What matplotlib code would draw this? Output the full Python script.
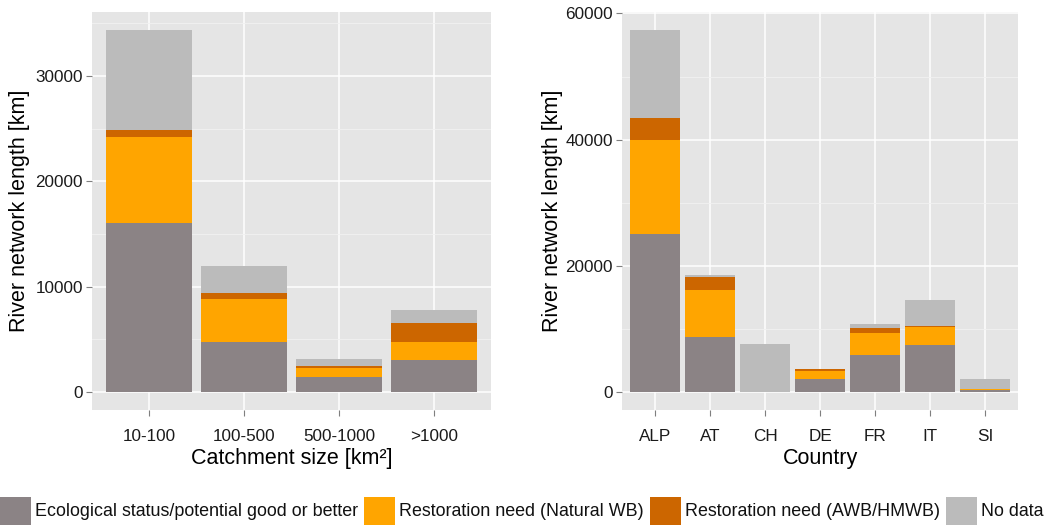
import numpy as np
import matplotlib
matplotlib.use("Agg")
import matplotlib.pyplot as plt
from matplotlib.patches import Rectangle

# river network length [km] by status class
catchments = ["10-100", "100-500", "500-1000", ">1000"]
catch_good = [16000, 4710, 1390, 3000]
catch_natural = [8250, 4140, 920, 1710]
catch_awb = [630, 570, 190, 1800]
catch_nodata = [9490, 2560, 660, 1300]

countries = ["ALP", "AT", "CH", "DE", "FR", "IT", "SI"]
country_good = [24960, 8760, 0, 2060, 5780, 7360, 320]
country_natural = [14990, 7440, 0, 1320, 3480, 2900, 200]
country_awb = [3480, 2060, 0, 260, 950, 160, 0]
country_nodata = [13930, 340, 7650, 0, 480, 4220, 1460]

labels = ["Ecological status/potential good or better",
          "Restoration need (Natural WB)",
          "Restoration need (AWB/HMWB)",
          "No data"]
colors = ["#8B8385", "#FFA500", "#CC6600", "#BBBBBB"]

plt.rcParams["font.family"] = ["Liberation Sans", "DejaVu Sans"]

W, H = 1045, 530
fig = plt.figure(figsize=(W / 100, H / 100), dpi=100)


def stacked(ax, cats, series, yticks, yminor):
    x = np.arange(1, len(cats) + 1)
    bottom = np.zeros(len(cats))
    for vals, c in zip(series, colors):
        vals = np.array(vals, dtype=float)
        ax.bar(x, vals, width=0.9, bottom=bottom, color=c, linewidth=0, zorder=3)
        bottom += vals
    top = bottom.max()
    ax.set_xlim(0.4, len(cats) + 0.6)
    ax.set_ylim(-0.05 * top, 1.05 * top)
    ax.set_facecolor("#E5E5E5")
    for s in ax.spines.values():
        s.set_visible(False)
    ax.set_xticks(x)
    ax.set_xticklabels(cats)
    ax.set_yticks(yticks)
    ax.set_yticks(yminor, minor=True)
    ax.grid(which="major", color="white", linewidth=1.1, zorder=1)
    ax.grid(which="minor", axis="y", color="#F2F2F2", linewidth=0.6, zorder=1)
    ax.tick_params(which="major", length=4.5, width=0.8, color="#7F7F7F",
                   labelsize=12.3, labelcolor="#1A1A1A")
    ax.tick_params(axis="x", pad=9.5)
    ax.tick_params(axis="y", pad=2)
    ax.tick_params(which="minor", length=0)
    ax.set_axisbelow(True)


ax1 = fig.add_axes([92 / W, 1 - 410 / H, 399 / W, 398 / H])
stacked(ax1, catchments, [catch_good, catch_natural, catch_awb, catch_nodata],
        [0, 10000, 20000, 30000], [5000, 15000, 25000, 35000])
ax1.set_xlabel("Catchment size [km²]", fontsize=15.5, labelpad=2.5)
ax1.set_ylabel("River network length [km]", fontsize=15.5, labelpad=4)

ax2 = fig.add_axes([622 / W, 1 - 410 / H, 396 / W, 398 / H])
stacked(ax2, countries, [country_good, country_natural, country_awb, country_nodata],
        [0, 20000, 40000, 60000], [10000, 30000, 50000])
ax2.set_xlabel("Country", fontsize=15.5, labelpad=2.5)
ax2.set_ylabel("River network length [km]", fontsize=15.5, labelpad=2)

# legend row along the bottom edge
fig.canvas.draw()
renderer = fig.canvas.get_renderer()
x0 = 0
key_w, key_h, key_y = 31, 28, 5
for lab, c in zip(labels, colors):
    fig.patches.append(Rectangle((x0 / W, key_y / H), key_w / W, key_h / H,
                                 facecolor=c, edgecolor="none",
                                 transform=fig.transFigure, figure=fig))
    t = fig.text((x0 + key_w + 4) / W, (key_y + key_h / 2 - 1) / H, lab,
                 fontsize=12.9, va="center", ha="left", color="#111111")
    bb = t.get_window_extent(renderer)
    x0 = bb.x1 + 6

fig.savefig("out.png", dpi=100)
